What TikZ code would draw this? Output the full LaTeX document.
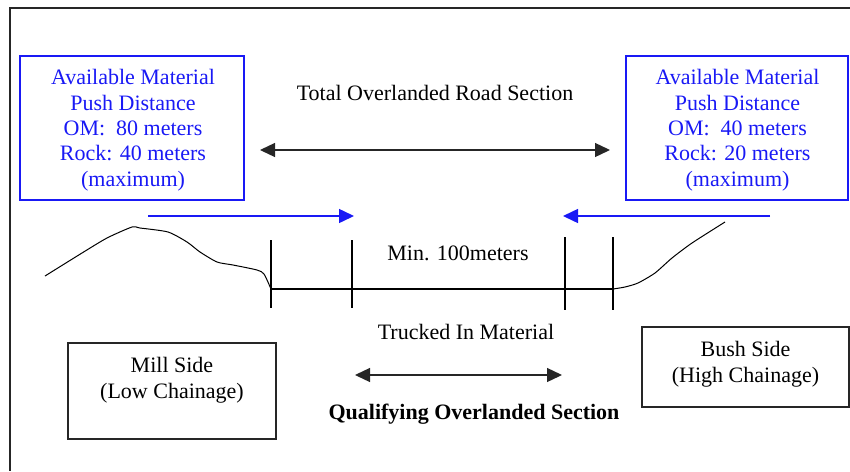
\documentclass[tikz,border=0pt]{standalone}
\usepackage{fontspec}
\setmainfont{Liberation Serif}
\usetikzlibrary{arrows.meta}
\definecolor{mblue}{RGB}{25,25,245}
\begin{document}
\begin{tikzpicture}[x=1pt,y=-1pt,
  every node/.style={font=\fontsize{22}{25.3}\selectfont, inner sep=0pt, align=center},
  bluebox/.style={draw=mblue, line width=1.5pt},
  blacktext/.style={text=black, anchor=base},
  bluetext/.style={text=mblue, anchor=base},
  sidebox/.style={draw=black!85, line width=1.4pt},
  thin/.style={line width=1.2pt, black},
  dimarrow/.style={line width=1.3pt, black!85, {Triangle[length=15pt,width=14pt]}-{Triangle[length=15pt,width=14pt]}},
  pusharrow/.style={line width=1.5pt, mblue, -{Triangle[length=15pt,width=14pt]}},
  hill/.style={line width=1pt, black}]
\useasboundingbox (0,0) rectangle (850,471);
% frame
\draw[line width=1.5pt, black!85] (850,8) -- (10,8) -- (10,471);
% blue boxes
\node[bluebox, minimum width=224pt, minimum height=144pt] (lbox) at (132,128) {};
\node[bluetext] (ltext) at (133,186) {Available Material\\Push Distance\\OM:\ \ 80 meters\\Rock: 40 meters\\(maximum)};
\node[bluebox, minimum width=222pt, minimum height=144pt] (rbox) at (737,128) {};
\node[bluetext] (rtext) at (737.5,186) {Available Material\\Push Distance\\OM:\ \ 40 meters\\Rock: 20 meters\\(maximum)};
% total section
\node[blacktext] (total) at (435,100) {Total Overlanded Road Section};
\coordinate (ta) at (260,150);
\coordinate (tb) at (610,150);
\draw[dimarrow] (ta) -- (tb);
% push arrows
\coordinate (pl1) at (148,216);
\coordinate (pl2) at (354,216);
\coordinate (pr1) at (770,216);
\coordinate (pr2) at (563,216);
\draw[pusharrow] (pl1) -- (pl2);
\draw[pusharrow] (pr1) -- (pr2);
% road and ticks
\coordinate (r1) at (271,289);
\coordinate (r4) at (613,289);
\draw[thin] (r1) -- (r4);
\coordinate (k1t) at (271,240); \coordinate (k1b) at (271,308);
\coordinate (k2t) at (352,240); \coordinate (k2b) at (352,308);
\coordinate (k3t) at (565,237); \coordinate (k3b) at (565,310);
\coordinate (k4t) at (613,237); \coordinate (k4b) at (613,310);
\draw[thin] (k1t) -- (k1b);
\draw[thin] (k2t) -- (k2b);
\draw[thin] (k3t) -- (k3b);
\draw[thin] (k4t) -- (k4b);
\node[blacktext] (min) at (458,260) {Min. 100meters};
% hills
\draw[hill] plot[smooth, tension=0.4] coordinates {(45,276) (82,253) (107,238) (132,227) (140,228) (168,232) (187,242) (200,252) (217,262) (233,265) (257,270) (264,274) (271,289)};
\draw[hill] plot[smooth, tension=0.4] coordinates {(613,289) (625,287) (638,283) (655,273) (672,258) (692,243) (725,222)};
% trucked in
\node[blacktext] (truck) at (466,339) {Trucked In Material};
\coordinate (qa) at (355,375);
\coordinate (qb) at (562,375);
\draw[dimarrow] (qa) -- (qb);
\node[blacktext, font=\fontsize{22}{25.3}\selectfont\bfseries] (qual) at (474,419) {Qualifying Overlanded Section};
% side boxes
\node[sidebox, minimum width=208pt, minimum height=96pt] (mill) at (172,391) {};
\node[blacktext] (milltext) at (172,398) {Mill Side\\(Low Chainage)};
\node[sidebox, minimum width=207pt, minimum height=80pt] (bush) at (745.5,367) {};
\node[blacktext] (bushtext) at (745.5,382) {Bush Side\\(High Chainage)};
\end{tikzpicture}
\end{document}
